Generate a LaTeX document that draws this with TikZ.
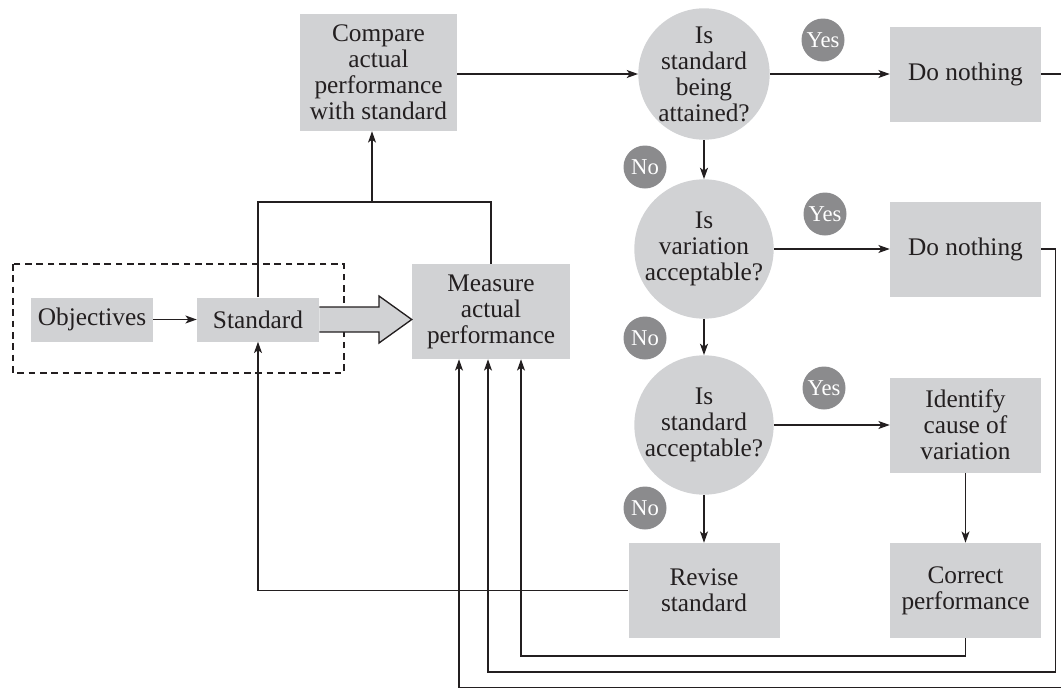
\documentclass[tikz,border=0pt]{standalone}
\usepackage{fontspec}
\setmainfont{Liberation Serif}
\usetikzlibrary{arrows.meta,calc}
\definecolor{boxgray}{HTML}{D1D2D4}
\definecolor{badgegray}{HTML}{8B8B8D}
\definecolor{inkgray}{HTML}{231F20}
\def\px{0.75pt}
\tikzset{
	procbox/.style={fill=boxgray, inner sep=0pt, align=center, minimum width=#1*\px},
	procbox/.default=151,
	question/.style={circle, fill=boxgray, inner sep=0pt, align=center, minimum size=130*\px},
	badge/.style={circle, fill=badgegray, text=white, inner sep=0pt, minimum size=43*\px, font=\fontsize{17}{17}\selectfont},
	flow/.style={draw=inkgray, line width=1pt, -{Stealth[length=8.5pt,width=6pt,inset=2.2pt]}},
	wire/.style={draw=inkgray, line width=1pt}
}

\begin{document}
\begin{tikzpicture}[x=0.75pt, y=-0.75pt, font=\fontsize{19}{19.5}\selectfont, text=inkgray]
			\useasboundingbox (0,0) rectangle (1061,689);
			%%%%% START %%%%%
			\def\colq{704}
			\def\colr{965.5}
			\def\rowa{74}
			\def\rowb{249}
			\def\rowc{425}
			\def\rowd{590.5}
			
			\draw[inkgray, line width=0.9pt, dash pattern=on 5pt off 3.5pt] (13,264) rectangle (344,373);
			
			\node[procbox=122, minimum height=44*\px] (obj) at (92,319.5) {Objectives};
			\node[procbox=122, minimum height=44*\px] (std) at (258,319.5) {Standard};
			\node[procbox=158, minimum height=95*\px] (msr) at (491,311.5) {Measure\\actual\\performance};
			\node[procbox=157, minimum height=117*\px] (cmp) at (378.5,72.5) {Compare\\actual\\performance\\with standard};
			
			\node[question] (qa) at (\colq,\rowa) {Is\\standard\\being\\attained?};
			\node[question] (qb) at (\colq,\rowb) {Is\\variation\\acceptable?};
			\node[question] (qc) at (\colq,\rowc) {Is\\standard\\acceptable?};
			
			\node[procbox, minimum height=95*\px] (dna) at (\colr,\rowa) {Do nothing};
			\node[procbox, minimum height=95*\px] (dnb) at (\colr,\rowb) {Do nothing};
			\node[procbox, minimum height=95*\px] (idc) at (\colr,\rowc) {Identify\\cause of\\variation};
			\node[procbox, minimum height=95*\px] (crp) at (\colr,\rowd) {Correct\\performance};
			\node[procbox, minimum height=95*\px] (rvs) at (\colq,\rowd) {Revise\\standard};
			
			\node[badge] (ya) at (823,40) {Yes};
			\node[badge] (yb) at (825,214) {Yes};
			\node[badge] (yc) at (824,388) {Yes};
			\node[badge] (na) at (645,167) {No};
			\node[badge] (nb) at (645,338) {No};
			\node[badge] (nc) at (645,508) {No};
			
			% main flow
			\draw[flow] (obj) -- (std);
			\draw[inkgray, line width=1pt, fill=boxgray] (std.east |- 0,307) -- (379,307) -- (379,296) -- (msr.west |- std.east) -- (379,343) -- (379,332) -- (std.east |- 0,332);
			\coordinate (jn) at (372,202);
			\draw[wire] (std.north) |- (msr.north |- jn) -- (msr.north);
			\draw[flow] (jn) -- (jn |- cmp.south);
			\draw[flow] (cmp.east |- qa.west) -- (qa.west);
			\draw[flow] (qa.east) -- (qa.east -| dna.west);
			\draw[flow] (qa) -- (qb);
			\draw[flow] (qb.east) -- (qb.east -| dnb.west);
			\draw[flow] (qb) -- (qc);
			\draw[flow] (qc.east) -- (qc.east -| idc.west);
			\draw[flow] (qc) -- (rvs);
			\draw[flow] (idc) -- (crp);
			\draw[flow] (rvs.west) -| (std.south);
			
			% feedback to measurement
			\coordinate (fa) at (459,687.5);
			\coordinate (fb) at (488,672);
			\coordinate (fc) at (521,656);
			\draw[flow] (dna.east) -- ++(30,0) |- (fa) -- (fa |- msr.south);
			\draw[flow] (dnb.east) -- ++(14,0) |- (fb) -- (fb |- msr.south);
			\draw[flow] (crp.south) |- (fc) -- (fc |- msr.south);
			%%%%% END %%%%%
\end{tikzpicture}
\end{document}
